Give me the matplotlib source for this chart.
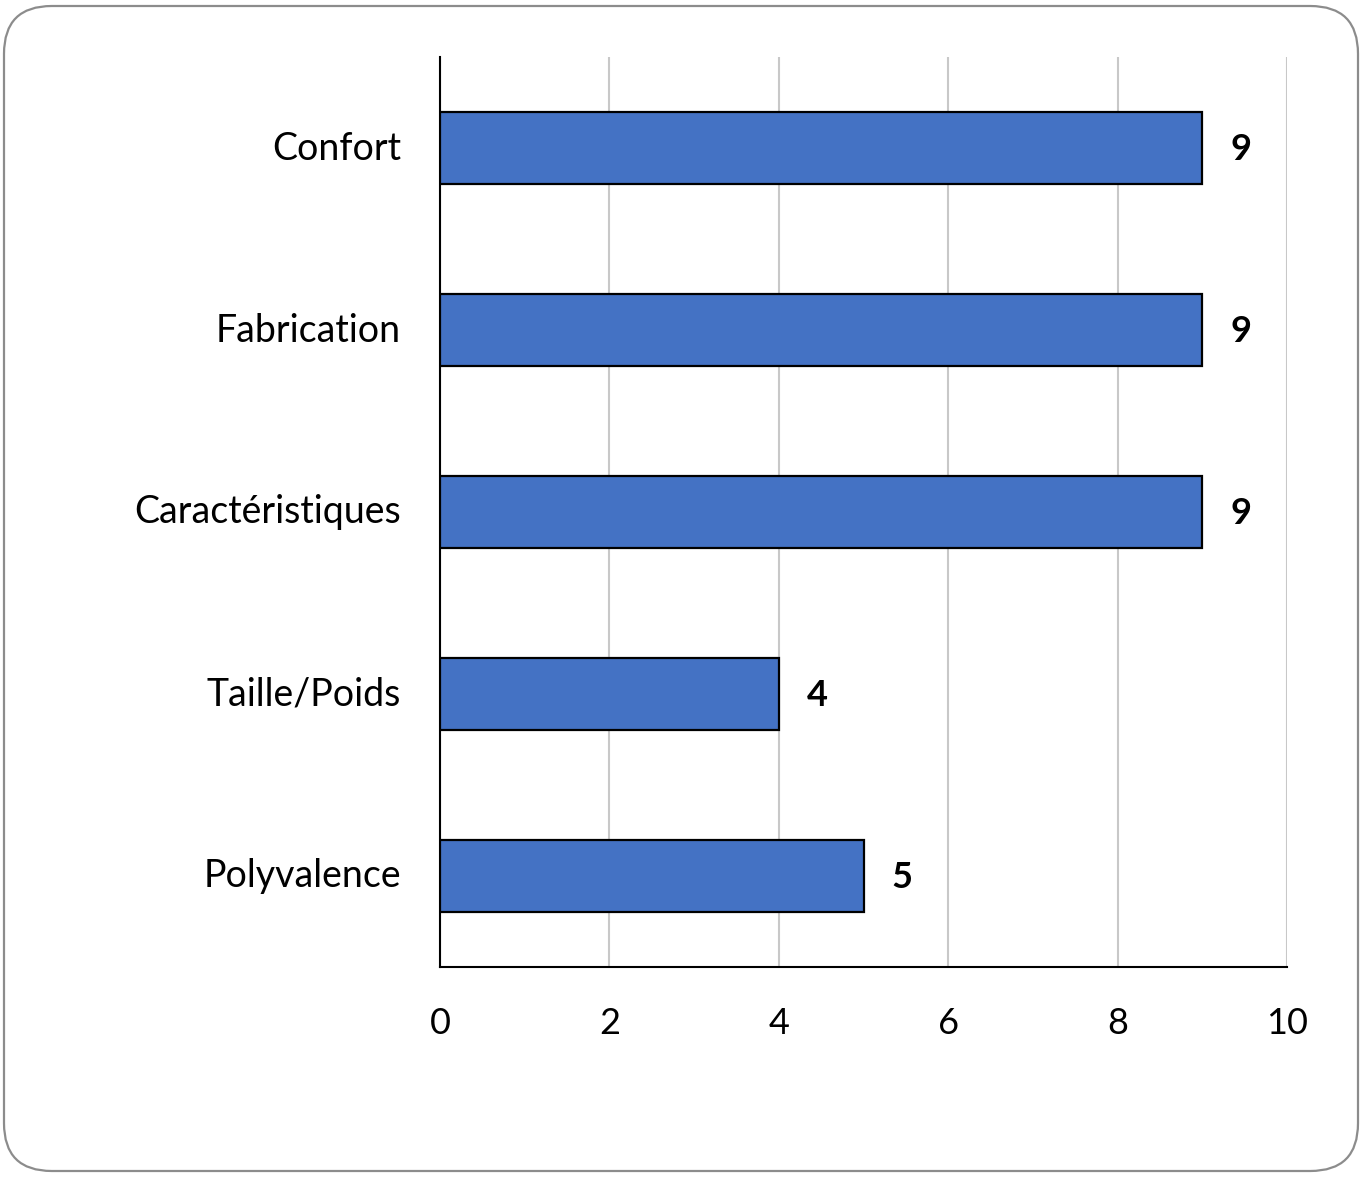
import matplotlib
matplotlib.use("Agg")
import matplotlib.pyplot as plt
import matplotlib.transforms as mtransforms
from matplotlib.patches import FancyBboxPatch

categories = ["Confort", "Fabrication", "Caractéristiques", "Taille/Poids", "Polyvalence"]
values = [9, 9, 9, 4, 5]
xticks = [0, 2, 4, 6, 8, 10]

plt.rcParams['font.family'] = ['Lato', 'DejaVu Sans']

W, H = 1365, 1177
fig = plt.figure(figsize=(W/100, H/100), dpi=100)

border = FancyBboxPatch((4/W, 6/H), (1358-4)/W, (1171-6)/H,
                        boxstyle="round,pad=0,rounding_size=0.035",
                        transform=fig.transFigure, facecolor='white',
                        edgecolor='#8c8c8c', linewidth=1.6, zorder=-10,
                        mutation_aspect=W/H)
fig.patches.append(border)

ax = fig.add_axes([440/W, 1-967/H, (1287-440)/W, (967-57)/H])
ax.set_zorder(5)
ax.patch.set_alpha(0)

ypos = list(range(len(categories)))
ax.barh(ypos, values, height=0.4, color='#4472C4', edgecolor='black', linewidth=1.6, zorder=3)
ax.set_ylim(len(categories)-0.5, -0.5)
ax.set_xlim(0, 10)
ax.set_xticks(xticks)
ax.set_xticklabels([str(t) for t in xticks], fontsize=26)
ax.set_yticks(ypos)
ax.set_yticklabels(categories, fontsize=27)
ax.tick_params(axis='both', length=0)
ax.tick_params(axis='x', pad=29)
ax.tick_params(axis='y', pad=28)
ax.grid(axis='x', color='#c8c8c8', linewidth=1.5, zorder=0)
for s in ['top', 'right']:
    ax.spines[s].set_visible(False)
for s in ['left', 'bottom']:
    ax.spines[s].set_color('black')
    ax.spines[s].set_linewidth(1.5)

shift = mtransforms.ScaledTranslation(0, 3/100, fig.dpi_scale_trans)
for lbl in ax.get_yticklabels():
    lbl.set_transform(lbl.get_transform() + shift)

for y, v in zip(ypos, values):
    ax.annotate(str(v), (v, y), xytext=(20, -1), textcoords='offset points',
                ha='left', va='center', fontsize=26, fontweight='bold')

fig.savefig("out.png", dpi=100)
